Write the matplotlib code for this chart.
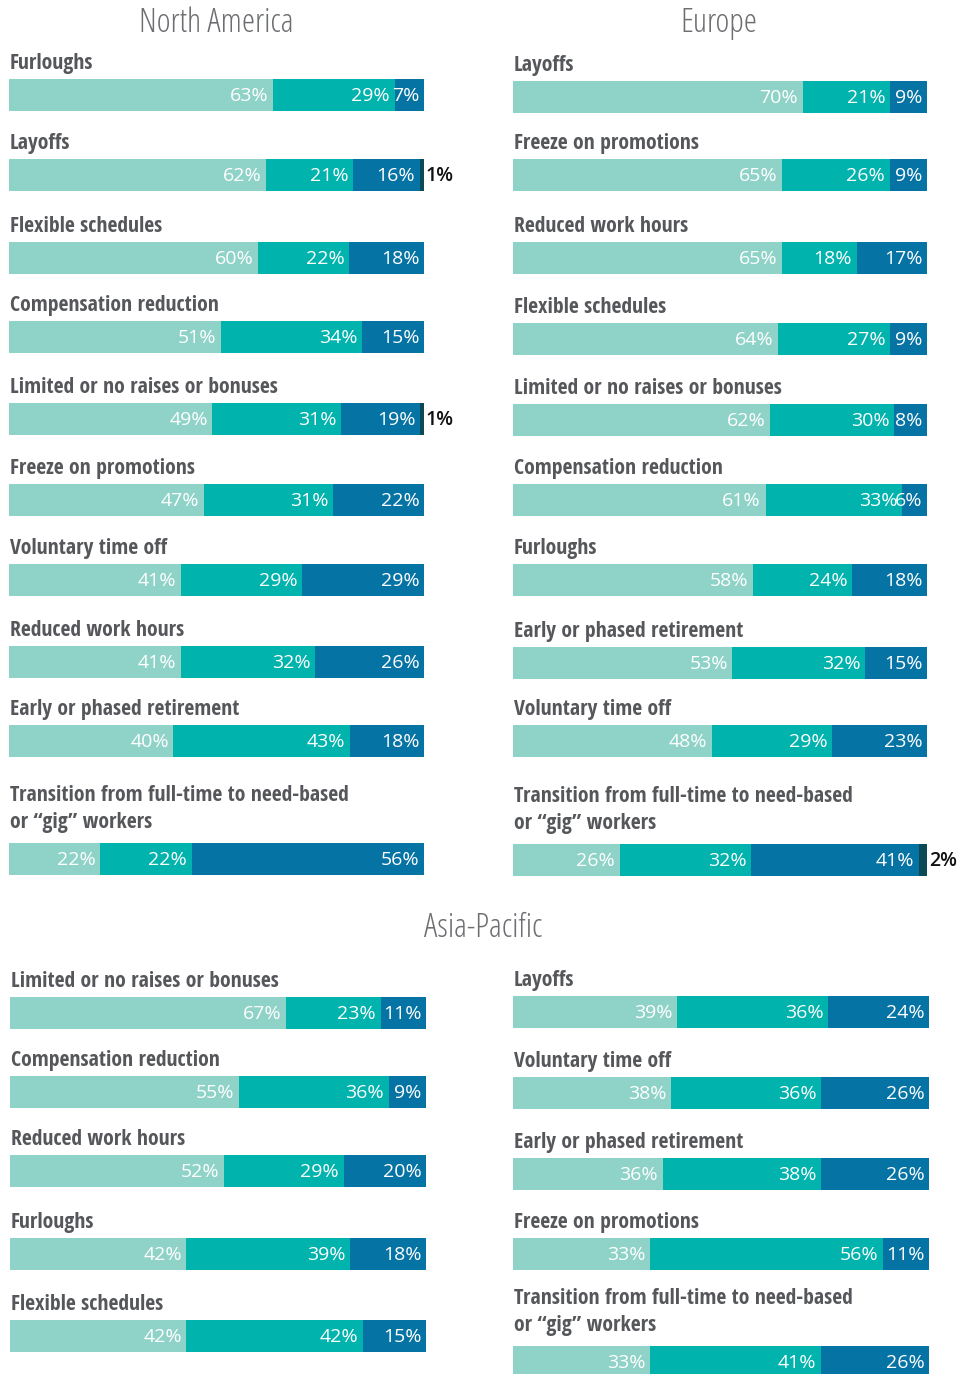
import matplotlib
matplotlib.use("Agg")
import matplotlib.pyplot as plt

W, H = 957, 1374
DPI = 100

# ---------------- data ----------------
na_categories = ["Furloughs", "Layoffs", "Flexible schedules", "Compensation reduction",
                 "Limited or no raises or bonuses", "Freeze on promotions", "Voluntary time off",
                 "Reduced work hours", "Early or phased retirement",
                 "Transition from full-time to need-based\nor \u201cgig\u201d workers"]
na_s1 = [63, 62, 60, 51, 49, 47, 41, 41, 40, 22]
na_s2 = [29, 21, 22, 34, 31, 31, 29, 32, 43, 22]
na_s3 = [7, 16, 18, 15, 19, 22, 29, 26, 18, 56]
na_s4 = [0, 1, 0, 0, 1, 0, 0, 0, 0, 0]

eu_categories = ["Layoffs", "Freeze on promotions", "Reduced work hours", "Flexible schedules",
                 "Limited or no raises or bonuses", "Compensation reduction", "Furloughs",
                 "Early or phased retirement", "Voluntary time off",
                 "Transition from full-time to need-based\nor \u201cgig\u201d workers"]
eu_s1 = [70, 65, 65, 64, 62, 61, 58, 53, 48, 26]
eu_s2 = [21, 26, 18, 27, 30, 33, 24, 32, 29, 32]
eu_s3 = [9, 9, 17, 9, 8, 6, 18, 15, 23, 41]
eu_s4 = [0, 0, 0, 0, 0, 0, 0, 0, 0, 2]

apl_categories = ["Limited or no raises or bonuses", "Compensation reduction",
                  "Reduced work hours", "Furloughs", "Flexible schedules"]
apl_s1 = [67, 55, 52, 42, 42]
apl_s2 = [23, 36, 29, 39, 42]
apl_s3 = [11, 9, 20, 18, 15]
apl_s4 = [0, 0, 0, 0, 0]

apr_categories = ["Layoffs", "Voluntary time off", "Early or phased retirement",
                  "Freeze on promotions",
                  "Transition from full-time to need-based\nor \u201cgig\u201d workers"]
apr_s1 = [39, 38, 36, 33, 33]
apr_s2 = [36, 36, 38, 56, 41]
apr_s3 = [24, 26, 26, 11, 26]
apr_s4 = [0, 0, 0, 0, 0]

titles = ["North America", "Europe", "Asia-Pacific"]

# ---------------- style ----------------
COLORS = ["#8fd3c8", "#00b3ad", "#0673a5", "#0b4a55"]
LABEL_COLOR = "#55575b"
TITLE_COLOR = "#6d6e71"

fig = plt.figure(figsize=(W / DPI, H / DPI), dpi=DPI)
fig.patch.set_facecolor("white")


def fx(px):
    return px / W


def fy(py):
    return 1 - py / H


BAR_H = 32
LINE_GAP = 27


def draw_panel(x0, width, centers, cats, s1, s2, s3, s4):
    for i, cat in enumerate(cats):
        cy = centers[i]
        top = cy - BAR_H / 2
        ax = fig.add_axes([fx(x0), fy(cy + BAR_H / 2), width / W, BAR_H / H])
        vals = [s1[i], s2[i], s3[i], s4[i]]
        total = sum(vals)
        left = 0
        for k, v in enumerate(vals):
            if v <= 0:
                continue
            ax.barh(0, v, left=left, height=1, color=COLORS[k], edgecolor="none")
            if k < 3:
                ax.text(left + v - total * 0.011, -0.02, f"{v}%", ha="right", va="center",
                        color="white", fontsize=14, family="Open Sans")
            else:
                ax.text(left + v + total * 0.004, -0.02, f"{v}%", ha="left", va="center",
                        color="#111111", fontsize=14, family="Open Sans",
                        fontweight="semibold", clip_on=False)
            left += v
        ax.set_xlim(0, total)
        ax.set_ylim(-0.5, 0.5)
        ax.axis("off")
        # category label (one text per line, baseline aligned)
        lines = cat.split("\n")
        last_base = top - (10 if len(lines) == 1 else 15)
        for j, line in enumerate(lines):
            base = last_base - (len(lines) - 1 - j) * LINE_GAP
            fig.text(fx(x0 + 1), fy(base), line, ha="left", va="baseline",
                     fontsize=15.7, fontweight="bold", family="Open Sans Condensed",
                     color=LABEL_COLOR)


na_centers = [95, 175, 258, 337, 419, 500, 580, 662, 741, 859]
eu_centers = [97, 175, 258, 339, 420, 500, 580, 663, 741, 860]
draw_panel(9, 415, na_centers, na_categories, na_s1, na_s2, na_s3, na_s4)
draw_panel(513, 414, eu_centers, eu_categories, eu_s1, eu_s2, eu_s3, eu_s4)

apl_centers = [1013, 1092, 1171, 1254, 1336]
apr_centers = [1012, 1093, 1174, 1254, 1362]
draw_panel(10, 416, apl_centers, apl_categories, apl_s1, apl_s2, apl_s3, apl_s4)
draw_panel(513, 416, apr_centers, apr_categories, apr_s1, apr_s2, apr_s3, apr_s4)

title_kw = dict(ha="center", va="center", fontsize=24, family="Open Sans",
                fontweight="light", fontstretch="condensed", color=TITLE_COLOR)
fig.text(fx(216), fy(23), titles[0], **title_kw)
fig.text(fx(719), fy(23), titles[1], **title_kw)
fig.text(fx(483), fy(928), titles[2], **title_kw)

fig.savefig("out.png", dpi=DPI, facecolor="white")
